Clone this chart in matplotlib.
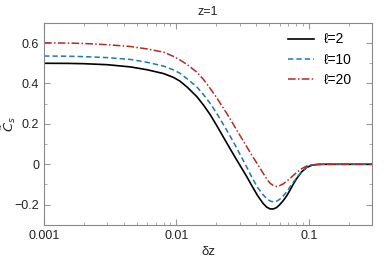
import matplotlib
matplotlib.use("Agg")
import matplotlib.pyplot as plt
from matplotlib.ticker import FixedLocator, LogLocator, NullFormatter, MultipleLocator

plt.rcParams['font.family'] = ['Liberation Sans', 'DejaVu Sans']

# values
dz = [0.001, 0.0015, 0.002, 0.003, 0.0045, 0.006, 0.008, 0.0095, 0.0106, 0.012,
      0.0142, 0.016, 0.018, 0.020, 0.022, 0.024, 0.026, 0.028, 0.031, 0.034,
      0.037, 0.041, 0.045, 0.048, 0.051, 0.054, 0.057, 0.060, 0.064, 0.068,
      0.072, 0.076, 0.081, 0.088, 0.096, 0.105, 0.115, 0.13, 0.3]
c_l2 = [0.500, 0.4995, 0.498, 0.493, 0.482, 0.468, 0.449, 0.430, 0.412, 0.383,
        0.336, 0.293, 0.245, 0.195, 0.148, 0.105, 0.066, 0.030, -0.018, -0.062,
        -0.105, -0.155, -0.193, -0.212, -0.221, -0.221, -0.214, -0.201, -0.180, -0.156,
        -0.128, -0.100, -0.070, -0.038, -0.016, -0.005, -0.001, 0.0, 0.0]
c_l10 = [0.536, 0.535, 0.533, 0.528, 0.519, 0.505, 0.486, 0.467, 0.451, 0.424,
         0.384, 0.345, 0.301, 0.255, 0.210, 0.168, 0.128, 0.090, 0.035, -0.015,
         -0.063, -0.115, -0.150, -0.170, -0.182, -0.186, -0.183, -0.174, -0.157, -0.136,
         -0.112, -0.090, -0.066, -0.036, -0.015, -0.004, -0.001, 0.0, 0.0]
c_l20 = [0.601, 0.600, 0.598, 0.592, 0.583, 0.571, 0.555, 0.534, 0.517, 0.494,
         0.457, 0.420, 0.375, 0.332, 0.290, 0.251, 0.214, 0.178, 0.130, 0.086,
         0.046, 0.000, -0.043, -0.073, -0.094, -0.106, -0.110, -0.106, -0.097, -0.084,
         -0.070, -0.056, -0.040, -0.022, -0.009, -0.003, -0.001, 0.0, 0.0]
labels = ["ℓ=2", "ℓ=10", "ℓ=20"]

fig = plt.figure(figsize=(3.9, 2.6), dpi=100)
ax = fig.add_axes([0.113, 0.135, 0.841, 0.777])

ax.plot(dz, c_l2, color='black', lw=1.2, ls='-', label=labels[0])
ax.plot(dz, c_l10, color='#1f77b4', lw=1.1, ls=(0, (3.5, 2)), label=labels[1])
ax.plot(dz, c_l20, color='#b52a1f', lw=1.1, ls=(0, (5, 1.5, 1, 1.5)), label=labels[2])

ax.set_xscale('log')
ax.set_xlim(0.001, 0.3)
ax.set_ylim(-0.3, 0.7)
ax.xaxis.set_major_locator(FixedLocator([0.001, 0.01, 0.1]))
ax.set_xticklabels(["0.001", "0.01", "0.1"])
ax.xaxis.set_minor_locator(LogLocator(base=10, subs=range(2, 10)))
ax.xaxis.set_minor_formatter(NullFormatter())
ax.yaxis.set_major_locator(FixedLocator([-0.2, 0, 0.2, 0.4, 0.6]))
ax.set_yticklabels(["\u22120.2", "0", "0.2", "0.4", "0.6"])
ax.yaxis.set_minor_locator(MultipleLocator(0.1))

ax.tick_params(which='both', direction='in', top=True, right=True,
               colors='#999999', labelcolor='#222222', labelsize=9)
ax.tick_params(which='major', length=4, width=0.8)
ax.tick_params(which='minor', length=2.5, width=0.6)
for s in ax.spines.values():
    s.set_color('#888888')
    s.set_linewidth(0.8)

ax.set_title("z=1", fontsize=9, color='#222222', pad=6)
ax.set_xlabel("δz", fontsize=9.5, color='#222222', labelpad=3)
ax.set_ylabel(r"$\tilde{C}_s$", fontsize=9.5, color='#222222')
ax.yaxis.set_label_coords(-0.08, 0.5)

ax.legend(loc='upper right', bbox_to_anchor=(0.956, 0.98), borderaxespad=0,
          frameon=False, fontsize=10, handlelength=1.9,
          labelspacing=0.45, handletextpad=0.7)

fig.savefig("out.png", dpi=100)
